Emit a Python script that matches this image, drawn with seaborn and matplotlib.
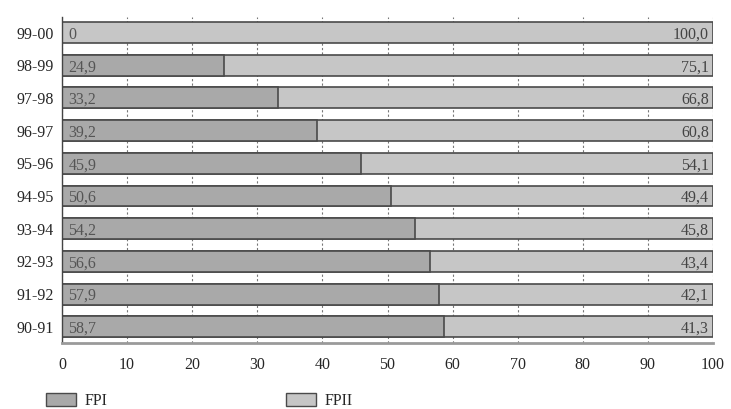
import matplotlib
matplotlib.use("Agg")
import matplotlib.pyplot as plt
import matplotlib.patches as mpatches
from matplotlib.ticker import FixedLocator
import seaborn as sns
import pandas as pd

years = ["99-00", "98-99", "97-98", "96-97", "95-96", "94-95", "93-94", "92-93", "91-92", "90-91"]
fpi = [0, 24.9, 33.2, 39.2, 45.9, 50.6, 54.2, 56.6, 57.9, 58.7]
fpii = [100.0, 75.1, 66.8, 60.8, 54.1, 49.4, 45.8, 43.4, 42.1, 41.3]
xticks = [0, 10, 20, 30, 40, 50, 60, 70, 80, 90, 100]

c_fpi = "#a9a9a9"
c_fpii = "#c6c6c6"
edge = "#4a4a4a"

sns.set_style("white")
plt.rcParams["font.family"] = ["Liberation Serif", "DejaVu Serif"]

df = pd.DataFrame({"year": years, "FPI": fpi, "FPII": fpii})
df["total"] = df["FPI"] + df["FPII"]

fig = plt.figure(figsize=(7.31, 4.09), dpi=100)
ax = fig.add_axes([0.0848, 0.161, 0.8906, 0.797])

sns.barplot(data=df, x="total", y="year", orient="h", color=c_fpii, saturation=1,
            width=0.64, edgecolor=edge, linewidth=1.2, ax=ax)
sns.barplot(data=df, x="FPI", y="year", orient="h", color=c_fpi, saturation=1,
            width=0.64, edgecolor=edge, linewidth=1.2, ax=ax)

for i, (a, b) in enumerate(zip(fpi, fpii)):
    lab_a = "0" if a == 0 else f"{a:.1f}".replace(".", ",")
    ax.text(1.0, i, lab_a, ha="left", va="center_baseline", fontsize=11.5, color="#555555")
    ax.text(99.4, i, f"{b:.1f}".replace(".", ","), ha="right", va="center_baseline",
            fontsize=11.5, color="#444444")

ax.set_xlim(0, 100)
ax.set_ylim(9.5, -0.47)
ax.set_xticks(xticks)
ax.set_xticklabels([str(t) for t in xticks], fontsize=11.5)
ax.xaxis.grid(True, color="#777777", linestyle=(0, (2, 2)), linewidth=0.8)
ax.set_axisbelow(True)
ax.set_xlabel("")
ax.set_ylabel("")
ax.tick_params(axis="y", which="major", length=0, labelsize=11.5, pad=6)
ax.yaxis.set_minor_locator(FixedLocator([i + 0.5 for i in range(-1, 9)]))
ax.tick_params(axis="y", which="minor", length=8, direction="inout", width=1, color="#444444")
ax.tick_params(axis="x", length=0, pad=10)

for s in ["top", "right"]:
    ax.spines[s].set_visible(False)
ax.spines["left"].set_color("#444444")
ax.spines["left"].set_linewidth(1.0)
ax.spines["bottom"].set_color("#9a9a9a")
ax.spines["bottom"].set_linewidth(2.0)

h1 = mpatches.Patch(facecolor=c_fpi, edgecolor=edge, linewidth=1.0, label="FPI")
h2 = mpatches.Patch(facecolor=c_fpii, edgecolor=edge, linewidth=1.0, label="FPII")
fig.legend(handles=[h1, h2], loc="lower left", bbox_to_anchor=(0.043, -0.035), ncol=2,
           frameon=False, fontsize=11.5, handlelength=1.9, handleheight=0.9,
           columnspacing=11.2, handletextpad=0.5)

fig.savefig("out.png", dpi=100, facecolor="white")
